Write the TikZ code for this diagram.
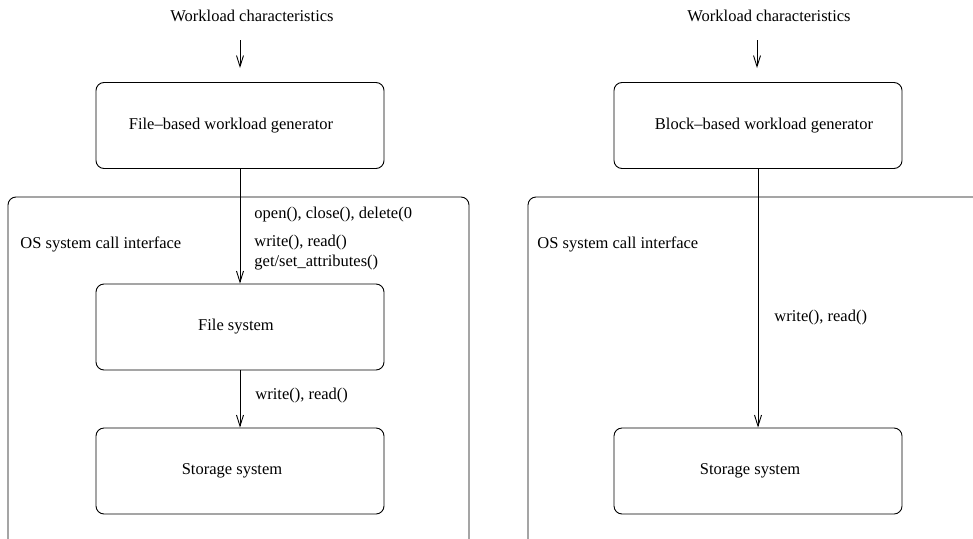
\documentclass[tikz,border=0pt]{standalone}
\usepackage{fontspec}
\setmainfont{Liberation Serif}
\usetikzlibrary{arrows.meta}
\begin{document}
\begin{tikzpicture}[x=1pt,y=-1pt,
  font=\fontsize{16.5}{20}\selectfont,
  line width=0.9pt,
  box/.style={draw,rounded corners=8pt,minimum width=288pt,minimum height=86pt,inner sep=0pt},
  flow/.style={-{Straight Barb[length=11pt,width=7pt,line width=0.9pt]}},
  txt/.style={inner sep=0pt,anchor=west}]
\useasboundingbox (0,0) rectangle (973,538);
\clip (0,0) rectangle (973,538);

% ---- file-based path (left) ----
\node[inner sep=0pt] (wlA) at (252,16) {Workload characteristics};
\coordinate (inA) at (240,40);
\node[box,label={[xshift=-9pt]center:File–based workload generator}] (genA) at (240,125.5) {};
\draw[rounded corners=8pt] (8,560) -- (8,197) -- (469,197) -- (469,560);
\node[txt] (osA) at (20,244) {OS system call interface};
\node[box,label={[xshift=-4pt]center:File system}] (fs) at (240,327) {};
\node[box,label={[xshift=-8pt]center:Storage system}] (stA) at (240,471) {};
\node[txt] (callA1) at (254,215) {open(), close(), delete(0};
\node[txt] (callA2) at (254,243) {write(), read()};
\node[txt] (callA3) at (254,263) {get/set\_attributes()};
\node[txt] (callA4) at (255,396) {write(), read()};

\draw[flow] (inA) -- ++(0,28);
\draw[flow] (genA.south) -- (fs.north);
\draw[flow] (fs.south) -- (stA.north);

% ---- block-based path (right) ----
\node[inner sep=0pt] (wlB) at (769,16) {Workload characteristics};
\coordinate (inB) at (757,40);
\node[box,label={[xshift=6pt]center:Block–based workload generator}] (genB) at (758,125.5) {};
\draw[rounded corners=8pt] (528,560) -- (528,197) -- (990,197) -- (990,560);
\node[txt] (osB) at (537,244) {OS system call interface};
\node[box,label={[xshift=-8pt]center:Storage system}] (stB) at (758,471) {};
\node[txt] (callB) at (774,318) {write(), read()};

\draw[flow] (inB) -- ++(0,28);
\draw[flow] (genB.south) -- (stB.north);
\end{tikzpicture}
\end{document}
